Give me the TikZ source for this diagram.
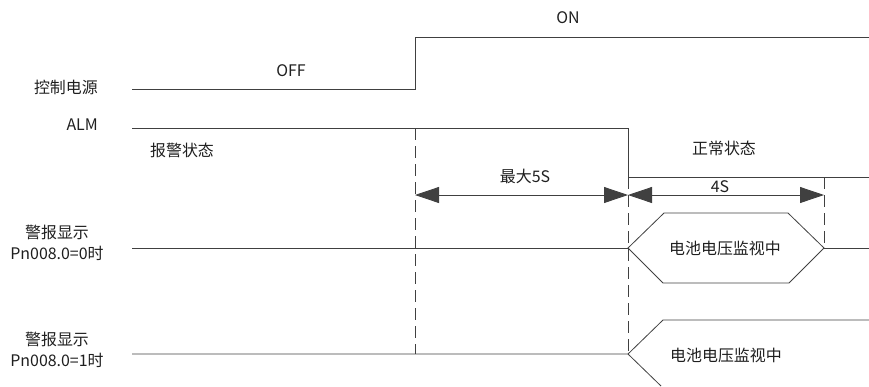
\documentclass[tikz,border=0pt]{standalone}
\usepackage{fontspec}
\setmainfont{Noto Sans CJK SC}
\usetikzlibrary{arrows.meta}

\begin{document}
\begin{tikzpicture}[x=1bp,y=-1bp,font=\fontsize{16}{21}\selectfont]
	\tikzset{sig/.style={draw=black!75,line width=.8bp},
		guide/.style={sig,dash pattern=on 12bp off 6bp},
		span/.style={sig,{Triangle[length=24bp,width=16bp]}-{Triangle[length=24bp,width=16bp]}},
		lbl/.style={inner sep=0pt,text=black!88,align=center}}
	\useasboundingbox (0,0) rectangle (869,386);
	% signal names
	\node[lbl,anchor=east] (pwrname) at (98,87) {控制电源};
	\node[lbl,anchor=east] (almname) at (98,125) {ALM};
	\node[lbl] (disp0name) at (57,243) {警报显示\\Pn008.0=0时};
	\node[lbl] (disp1name) at (57,350) {警报显示\\Pn008.0=1时};
	% control power
	\coordinate (p0) at (132,89); \coordinate (p1) at (415,89);
	\coordinate (p2) at (415,37); \coordinate (p3) at (869,37);
	\draw[sig] (p0) -- (p1) -- (p2) -- (p3);
	\node[lbl] (off) at (291,71) {OFF};
	\node[lbl] (on) at (568,18) {ON};
	% ALM
	\coordinate (a0) at (132,128); \coordinate (a1) at (628,128);
	\coordinate (a2) at (628,177); \coordinate (a3) at (869,177);
	\draw[sig] (a0) -- (a1) -- (a2) -- (a3);
	\node[lbl] (alarm) at (182,150) {报警状态};
	\node[lbl] (normal) at (724,148) {正常状态};
	% display, Pn008.0=0
	\coordinate (h0) at (132,248); \coordinate (hl) at (628,248);
	\coordinate (hr) at (824,248); \coordinate (h9) at (869,248);
	\draw[sig] (h0) -- (hl);
	\draw[sig] (hl) -- (664,213) -- (788,213) -- (hr) -- (789,283) -- (663,283) -- cycle;
	\draw[sig] (hr) -- (h9);
	\node[lbl] (mon0) at (725,248) {电池电压监视中};
	% display, Pn008.0=1
	\coordinate (b0) at (132,354); \coordinate (bl) at (628,354);
	\coordinate (bt) at (663,320); \coordinate (b9) at (869,320);
	\coordinate (bb) at (661,386);
	\draw[sig] (b0) -- (bl) -- (bt) -- (b9);
	\draw[sig] (bl) -- (bb);
	\node[lbl] (mon1) at (726,355) {电池电压监视中};
	% timing guides
	\coordinate (g0) at (415,128); \coordinate (g0e) at (415,354);
	\coordinate (g2) at (824,177);
	\draw[guide] (g0) -- (g0e);
	\draw[guide] (a2) -- (bl);
	\draw[guide] (g2) -- (hr);
	% spans
	\coordinate (s0) at (415,195); \coordinate (s1) at (628,195);
	\coordinate (s2) at (824,195);
	\draw[span] (s0) -- (s1);
	\draw[span] (s1) -- (s2);
	\node[lbl] (max5) at (525,176) {最大5S};
	\node[lbl] (four) at (720,187) {4S};
\end{tikzpicture}
\end{document}
